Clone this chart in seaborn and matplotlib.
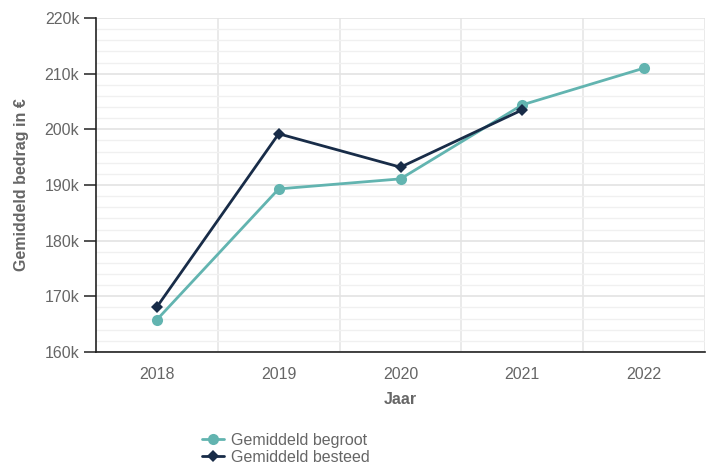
import numpy as np
import pandas as pd
import matplotlib
matplotlib.use("Agg")
import matplotlib.pyplot as plt
import seaborn as sns
from matplotlib.ticker import MultipleLocator, FuncFormatter, FixedLocator

years = ["2018", "2019", "2020", "2021", "2022"]
begroot = [165.8, 189.3, 191.1, 204.4, 211.0]
besteed = [168.1, 199.2, 193.2, 203.5, np.nan]
series_names = ["Gemiddeld begroot", "Gemiddeld besteed"]

TEAL = "#62b4b0"
NAVY = "#182c48"
TEXT = "#666666"

sns.set_style("white")
plt.rcParams["font.family"] = ["Liberation Sans", "DejaVu Sans"]

df = pd.DataFrame({
    "pos": list(range(len(years))) * 2,
    "value": [v * 1000 for v in begroot + besteed],
    "serie": [series_names[0]] * len(years) + [series_names[1]] * len(years),
}).dropna()

fig = plt.figure(figsize=(7.12, 4.65), dpi=100)
ax = fig.add_axes([96 / 712, 1 - 352 / 465, (705 - 96) / 712, (352 - 18) / 465])

sns.lineplot(data=df, x="pos", y="value", hue="serie", style="serie",
             palette={series_names[0]: TEAL, series_names[1]: NAVY},
             markers={series_names[0]: "o", series_names[1]: "D"},
             dashes=False, linewidth=2, markersize=8, markeredgewidth=0,
             ax=ax, legend=False)
# diamond a bit smaller
for line in ax.lines:
    if line.get_marker() == "D":
        line.set_markersize(6.5)

ax.set_xlim(-0.5, len(years) - 0.5)
ax.set_ylim(160000, 220000)
ax.yaxis.set_major_locator(MultipleLocator(10000))
ax.yaxis.set_minor_locator(MultipleLocator(2000))
ax.yaxis.set_major_formatter(FuncFormatter(lambda v, p: f"{int(v / 1000)}k"))
ax.xaxis.set_major_locator(FixedLocator(range(len(years))))
ax.set_xticklabels(years)
ax.xaxis.set_minor_locator(FixedLocator(np.arange(0.5, len(years), 1.0)))

ax.grid(which="major", axis="y", color="#e3e3e3", linewidth=1.2)
ax.grid(which="minor", axis="y", color="#f0f0f0", linewidth=1)
ax.grid(which="minor", axis="x", color="#e6e6e6", linewidth=1.2)
ax.set_axisbelow(True)

for s in ["top", "right"]:
    ax.spines[s].set_visible(False)
ax.spines["left"].set_color("#222222")
ax.spines["bottom"].set_color("#222222")
ax.spines["left"].set_linewidth(1.2)
ax.spines["bottom"].set_linewidth(1.2)

ax.tick_params(axis="y", which="major", length=9, width=1.2, color="#333333",
               labelsize=11.5, labelcolor=TEXT, pad=3, left=True)
ax.tick_params(axis="y", which="minor", length=0)
ax.tick_params(axis="x", which="both", length=0, labelsize=11.5, labelcolor=TEXT, pad=11)

ax.set_xlabel("Jaar", fontsize=11.5, fontweight="bold", color=TEXT, labelpad=7)
ax.set_ylabel("Gemiddeld bedrag in €", fontsize=11.5, fontweight="bold", color=TEXT, labelpad=11)

handles = [
    plt.Line2D([], [], color=TEAL, marker="o", markersize=8, linewidth=2, markeredgewidth=0),
    plt.Line2D([], [], color=NAVY, marker="D", markersize=6.5, linewidth=2, markeredgewidth=0),
]
fig.legend(handles, series_names, loc="upper left",
           bbox_to_anchor=(194 / 712, 1 - 425 / 465), frameon=False,
           fontsize=11.5, labelcolor=TEXT, handlelength=1.4, handletextpad=0.4,
           labelspacing=0.1, borderpad=0)

fig.savefig("out.png", dpi=100)
